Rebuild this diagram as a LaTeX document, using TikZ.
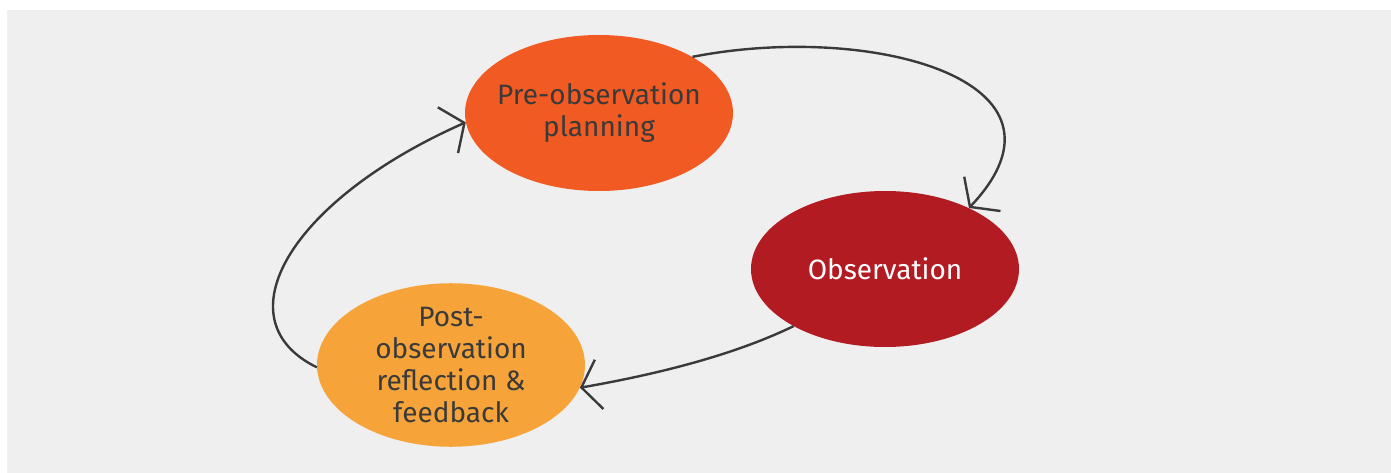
\documentclass[tikz,border=0pt]{standalone}
\usepackage{fontspec}
\setmainfont{Fira Sans}
\usepackage{xcolor}
\usetikzlibrary{arrows.meta}
\usetikzlibrary{shapes.geometric}

\definecolor{bgGrey}{HTML}{EFEFEF}
\definecolor{preOrange}{HTML}{F15A22}
\definecolor{obsRed}{HTML}{B31B23}
\definecolor{postYellow}{HTML}{F6A43A}
\definecolor{inkGrey}{HTML}{3A3A3A}

\begin{document}
\begin{tikzpicture}[x=1pt, y=-1pt,
    stage/.style={ellipse, minimum width=268pt, minimum height=156pt, inner xsep=-30pt, inner ysep=0pt,
                  align=center, text=inkGrey, font=\fontsize{28}{32}\selectfont},
    cycle/.style={draw=inkGrey, line width=2.4pt, -{Straight Barb[length=18pt, width=50pt, line width=2.4pt]}}]
		\useasboundingbox (0,0) rectangle (1391,473);
		\fill[bgGrey] (7,10) rectangle (1391,473);

		\node[stage, fill=preOrange] (pre) at (599,113) {Pre-observation\\planning};
		\node[stage, fill=obsRed, text=white] (obs) at (885,269) {Observation};
		\node[stage, fill=postYellow] (post) at (451,365) {Post-\\observation\\reflection \&\\feedback};

		\draw[cycle] (pre.31) .. controls (870,22) and (1090,80) .. (obs.36);
		\draw[cycle] (obs.212) .. controls (740,352) and (670,372) .. (post.-10);
		\draw[cycle] (post.181) .. controls (220,320) and (290,200) .. (pre.184);
\end{tikzpicture}
\end{document}
